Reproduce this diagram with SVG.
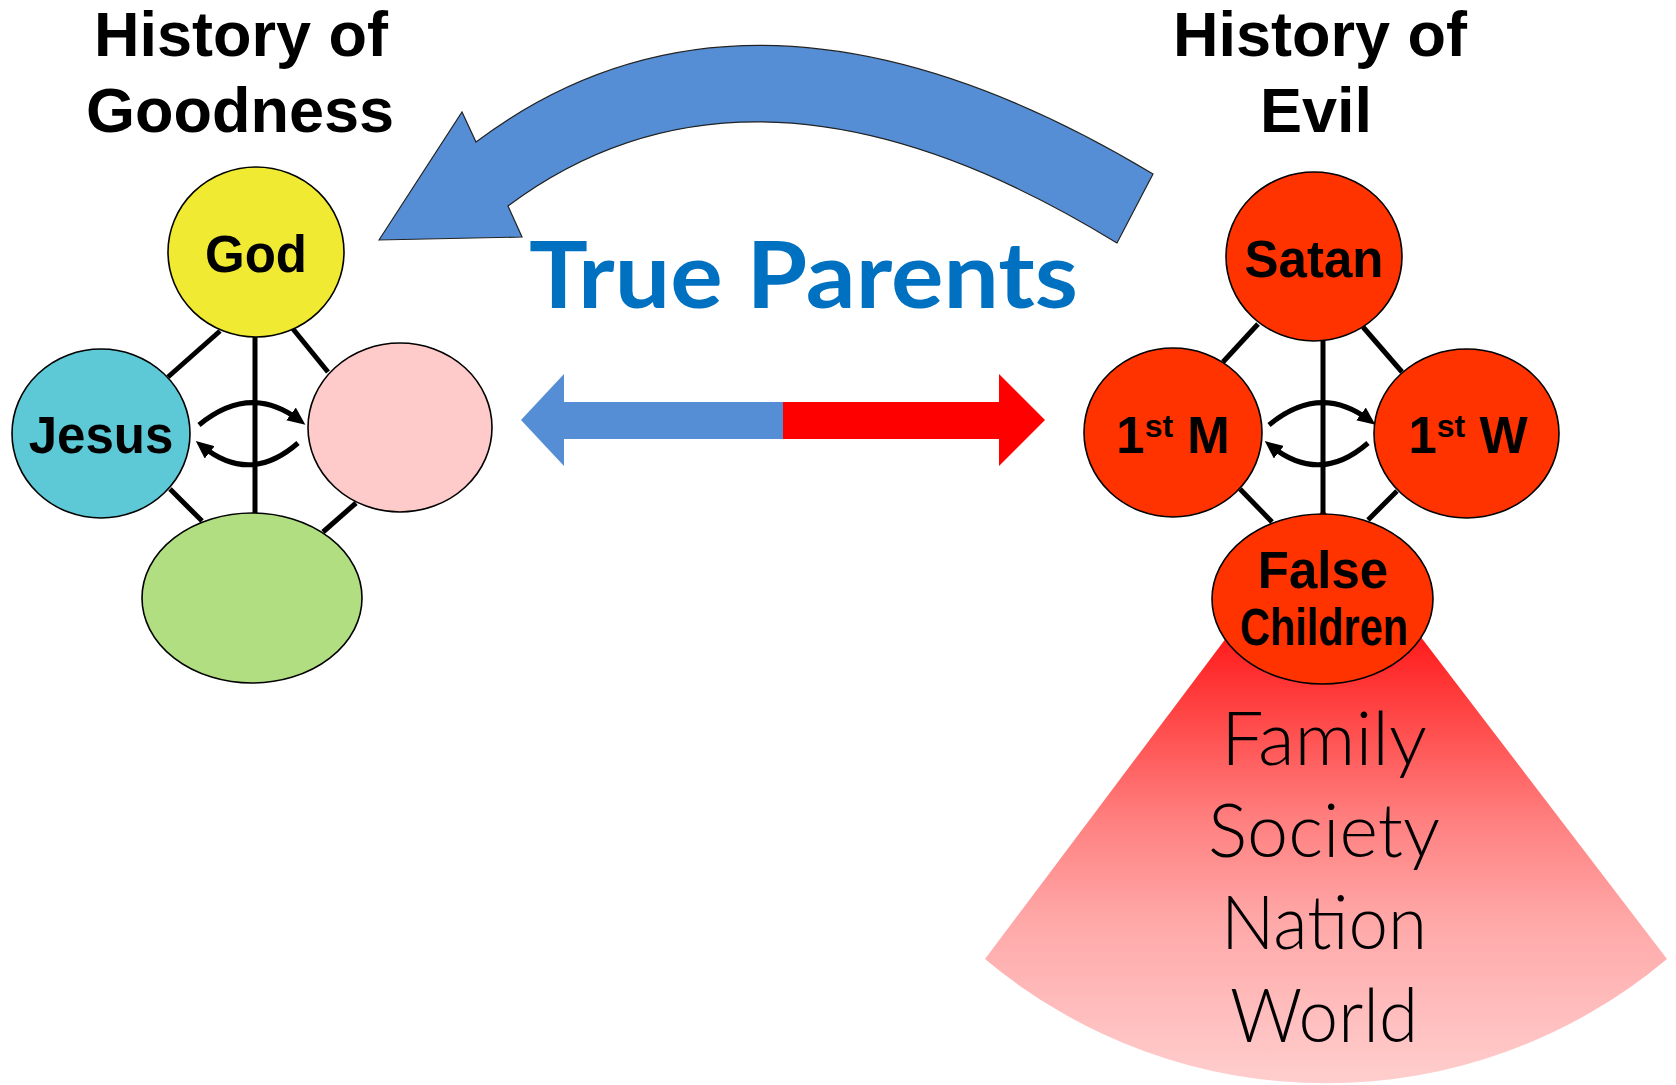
<svg xmlns="http://www.w3.org/2000/svg" width="1676" height="1085" viewBox="0 0 1676 1085">
<style>
.title{font-family:"Liberation Sans",Arial,sans-serif;font-weight:bold;font-size:63px;fill:#000;text-anchor:middle}
.lbl{font-family:"Liberation Sans",Arial,sans-serif;font-weight:bold;font-size:51px;fill:#000;text-anchor:middle}
.node{stroke:#000;stroke-width:1.6}
.link{stroke:#000;stroke-width:5;fill:none}
.swap{stroke:#000;stroke-width:5;fill:none;marker-end:url(#ah)}
.lvl{font-family:"Lato","Open Sans",sans-serif;font-weight:300;font-size:75px;fill:#000;text-anchor:middle}
</style>
<defs>
<marker id="ah" markerUnits="userSpaceOnUse" markerWidth="18" markerHeight="16" viewBox="0 0 18 16" refX="10" refY="8" orient="auto">
<path d="M0,0 L18,8 L0,16 z" fill="#000"/>
</marker>
<linearGradient id="fan" x1="0" y1="630" x2="0" y2="1085" gradientUnits="userSpaceOnUse">
<stop offset="0" stop-color="#FF1818"/>
<stop offset="0.42" stop-color="#FF8080"/>
<stop offset="0.64" stop-color="#FFA8A8"/>
<stop offset="1" stop-color="#FFCECE"/>
</linearGradient>
</defs>
<rect width="1676" height="1085" fill="#fff"/>

<g id="titles">
<text class="title" x="241" y="56">History of</text>
<text class="title" x="240" y="132">Goodness</text>
<text class="title" x="1320" y="56">History of</text>
<text class="title" x="1316" y="132">Evil</text>
</g>

<g id="fan-area">
<path d="M1323,509 L985,959 A530,530 0 0 0 1667,959 Z" fill="url(#fan)"/>
<text class="lvl" x="1324" y="765" textLength="206" lengthAdjust="spacingAndGlyphs">Family</text>
<text class="lvl" x="1324" y="857" textLength="232" lengthAdjust="spacingAndGlyphs">Society</text>
<text class="lvl" x="1324" y="949" textLength="206" lengthAdjust="spacingAndGlyphs">Nation</text>
<text class="lvl" x="1324" y="1042" textLength="188" lengthAdjust="spacingAndGlyphs">World</text>
</g>

<g id="connectors">
<line class="link" x1="220" y1="331" x2="168" y2="377"/>
<line class="link" x1="293" y1="329" x2="328" y2="372"/>
<line class="link" x1="255" y1="337" x2="255" y2="513"/>
<line class="link" x1="170" y1="489" x2="202" y2="521"/>
<line class="link" x1="356" y1="503" x2="323" y2="532"/>
<path class="swap" d="M199,425 Q250,383 299,420"/>
<path class="swap" d="M298,443 Q250,485 202,446"/>
<line class="link" x1="1258" y1="324" x2="1223" y2="362"/>
<line class="link" x1="1363" y1="327" x2="1402" y2="372"/>
<line class="link" x1="1323" y1="341" x2="1323" y2="514"/>
<line class="link" x1="1240" y1="489" x2="1272" y2="522"/>
<line class="link" x1="1397" y1="491" x2="1368" y2="520"/>
<path class="swap" d="M1269,425 Q1320,383 1369,420"/>
<path class="swap" d="M1368,443 Q1320,485 1271,446"/>
<path id="curved-arrow" d="M379,240 L462,112 L476,142 Q753,-66 1153,174 L1117,243 Q756,21 508,206 L522,237 Z" fill="#558ED5" stroke="#222" stroke-width="1.2"/>
<g id="double-arrow">
<path d="M521,420 L564,374 L564,402 L783,402 L783,439 L564,439 L564,466 Z" fill="#558ED5"/>
<path d="M783,402 L999,402 L999,374 L1045,420 L999,466 L999,439 L783,439 Z" fill="#FF0000"/>
</g>
</g>

<text id="true-parents" x="529" y="308" font-family="Lato,'Open Sans',sans-serif" font-weight="bold" font-size="92" fill="#0070C0" textLength="549" lengthAdjust="spacingAndGlyphs">True Parents</text>

<g id="god"><ellipse class="node" cx="256" cy="252" rx="88" ry="85" fill="#F0EA32"/><text class="lbl" x="256" y="272">God</text></g>
<g id="jesus"><ellipse class="node" cx="101" cy="433.5" rx="89" ry="84.5" fill="#5DC8D6"/><text class="lbl" x="101" y="453">Jesus</text></g>
<g id="pink"><ellipse class="node" cx="400" cy="427.5" rx="92" ry="84.5" fill="#FFCACA"/></g>
<g id="green"><ellipse class="node" cx="252" cy="598" rx="110" ry="85" fill="#B2DE82"/></g>

<g id="satan"><ellipse class="node" cx="1314" cy="256.5" rx="88" ry="84.5" fill="#FF3300"/><text class="lbl" x="1314" y="277">Satan</text></g>
<g id="first-m"><ellipse class="node" cx="1173" cy="432.5" rx="89" ry="84.5" fill="#FF3300"/><text class="lbl" x="1173" y="453" font-size="50">1<tspan font-size="32" dy="-16">st</tspan><tspan dy="16"> M</tspan></text></g>
<g id="first-w"><ellipse class="node" cx="1466.5" cy="433.5" rx="92.5" ry="84.5" fill="#FF3300"/><text class="lbl" x="1468" y="453" font-size="50">1<tspan font-size="32" dy="-16">st</tspan><tspan dy="16"> W</tspan></text></g>
<g id="false-children"><ellipse class="node" cx="1322.5" cy="599" rx="110.5" ry="85" fill="#FF3300"/><text class="lbl" x="1323" y="588" font-size="45">False</text><text class="lbl" x="1324" y="645" font-size="45" textLength="168" lengthAdjust="spacingAndGlyphs">Children</text></g>
</svg>
